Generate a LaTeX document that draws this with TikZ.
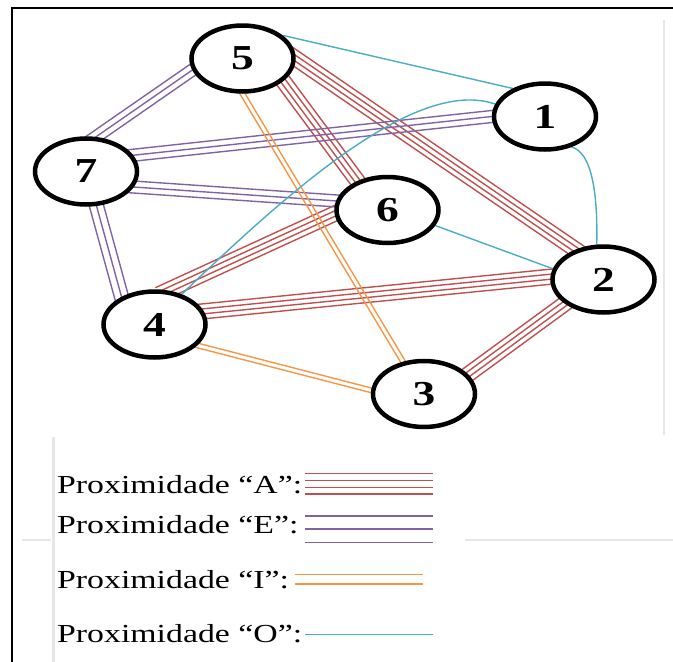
\documentclass[tikz,border=0pt]{standalone}
\usepackage{fontspec}
\setmainfont{Liberation Serif}
\usetikzlibrary{calc,shapes.geometric,backgrounds}
\definecolor{cA}{RGB}{192,80,77}
\definecolor{cE}{RGB}{128,100,162}
\definecolor{cI}{RGB}{247,150,70}
\definecolor{cO}{RGB}{75,172,198}
\definecolor{gr}{RGB}{230,230,230}
\newcommand\bundle[4]{\foreach \o in {#4}{\draw[#1] ($(#2)!\o pt!90:(#3)$) -- ($(#3)!\o pt!-90:(#2)$);}}
\newcommand\numlabel[1]{\scalebox{1.3}[1]{#1}}
\newcommand\legtext[1]{\scalebox{1.3}[1]{#1}}
\begin{document}
\begin{tikzpicture}[x=1pt,y=-1pt,
  nd/.style={ellipse, draw=black, line width=4.5pt, fill=white, minimum width=102pt, minimum height=66pt, inner sep=0pt, font=\fontsize{35}{35}\selectfont\bfseries},
  bund/.style={line width=1.4pt, shorten <=-10pt, shorten >=-10pt},
  eA/.style={bund, cA},
  eE/.style={bund, cE},
  eI/.style={bund, cI},
  eO/.style={cO, line width=1.4pt},
  leg/.style={anchor=base west, inner sep=0pt, font=\fontsize{26}{30}\selectfont},
  legline/.style={line width=1.5pt}]
\useasboundingbox (0,0) rectangle (673,662);
% frame and faint rules
\draw[gr, line width=2.5pt] (664,20) -- (664,435);
\draw[gr, line width=2.5pt] (22,540) -- (51,540);
\draw[gr, line width=2.5pt] (465,540) -- (673,540);
\draw[gr, line width=2.5pt] (53.5,437) -- (53.5,662);
\draw[black, line width=2.2pt] (12,662) -- (12,8) -- (673,8);
% nodes
\node[nd] (n5) at (242.5,58.5) {\numlabel{5}};
\node[nd] (n1) at (545,116.5) {\numlabel{1}};
\node[nd] (n7) at (86,171.5) {\numlabel{7}};
\node[nd] (n6) at (387.5,210) {\numlabel{6}};
\node[nd] (n2) at (603.5,279.5) {\numlabel{2}};
\node[nd] (n4) at (154.5,324.5) {\numlabel{4}};
\node[nd] (n3) at (424,394) {\numlabel{3}};
\begin{scope}[on background layer]
% A
\bundle{eA}{n5.-29}{n6.136}{-7.5,-2.5,2.5,7.5}
\bundle{eA}{n5.0}{n2.133}{-7.5,-2.5,2.5,7.5}
\bundle{eA}{n6.184}{n4.69}{-7.5,-2.5,2.5,7.5}
\bundle{eA}{n4.15}{n2.177}{-7.5,-2.5,2.5,7.5}
\bundle{eA}{n2.212}{n3.24}{-7.5,-2.5,2.5,7.5}
% E
\bundle{eE}{n5.193}{n7.74}{-6,0,6}
\bundle{eE}{n7.19}{n1.180}{-6,0,6}
\bundle{eE}{n7.-18}{n6.170}{-6,0,6}
\bundle{eE}{n7.-73}{n4.140}{-7,0,7}
% I
\bundle{eI}{n5.-90}{n3.123}{-2.3,2.3}
\bundle{eI}{n4.-26}{n3.176}{-2.3,2.3}
% O
\draw[eO] (n5.30) -- (n1.139);
\draw[eO] (n4.48) .. controls (300,180) and (420,78) .. (n1.166);
\draw[eO] (n1.-49) .. controls (592,152) and (598,195) .. (n2.101);
\draw[eO] (n6.-18) -- (n2.168);
\end{scope}
% legend
\node[leg] (tA) at (57,493) {\legtext{Proximidade “A”:}};
\node[leg] (tE) at (57,533) {\legtext{Proximidade “E”:}};
\node[leg] (tI) at (57,588) {\legtext{Proximidade “I”:}};
\node[leg] (tO) at (57,642) {\legtext{Proximidade “O”:}};
\foreach \y in {473.7,480.7,487.7,494} {\draw[legline, cA] (305,\y) -- (433,\y);}
\foreach \y in {516,529,542.3} {\draw[legline, cE] (305,\y) -- (433,\y);}
\foreach \y in {574.7,584} {\draw[legline, cI] (295,\y) -- (423,\y);}
\draw[legline, cO] (305,634.3) -- (433,634.3);
\end{tikzpicture}
\end{document}
